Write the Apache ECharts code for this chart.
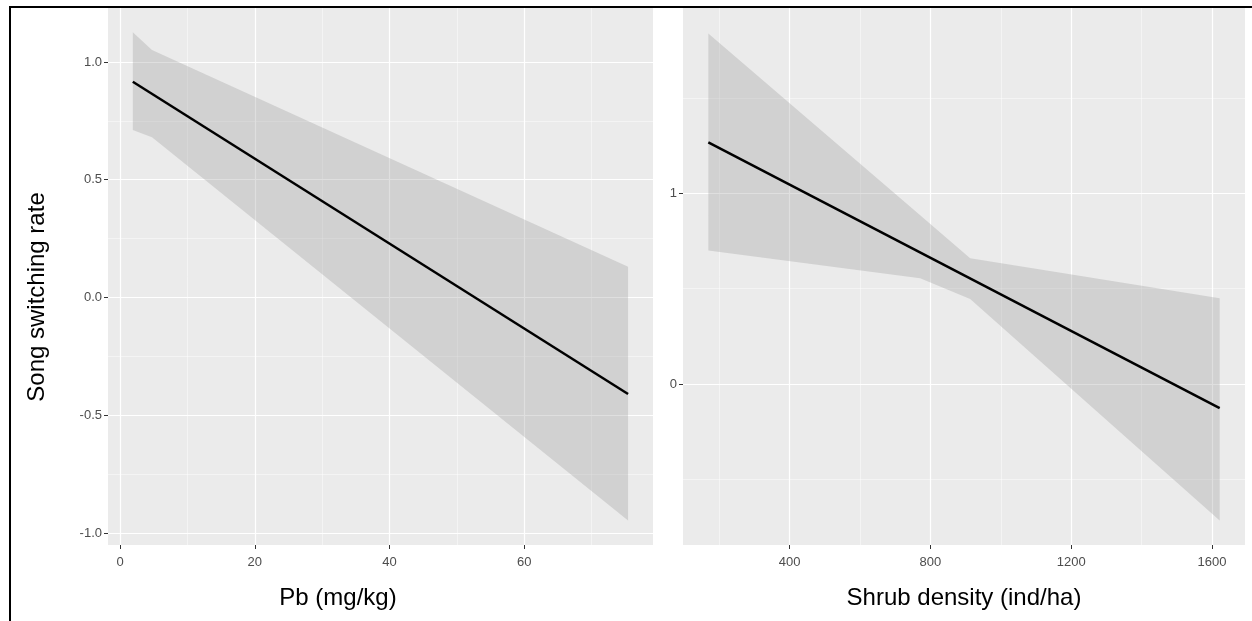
<!DOCTYPE html>
<html>
<head>
<meta charset="utf-8">
<script src="https://cdn.jsdelivr.net/npm/echarts@6/dist/echarts.min.js"></script>
<style>
  html, body { margin: 0; padding: 0; background: #fff; }
  #main { width: 1252px; height: 621px; }
</style>
</head>
<body>
<div id="main"></div>
<script>
// left panel: Pb (mg/kg)
const pbBandX = [1.9, 4.75, 75.4];
const pbUpper = [1.126, 1.051, 0.13];
const pbLower = [0.711, 0.68, -0.947];
const pbLineX = [1.9, 75.4];
const pbLineY = [0.916, -0.41];

// right panel: Shrub density (ind/ha)
const shrubBandX = [169, 771, 913, 1622];
const shrubUpper = [1.838, 0.885, 0.66, 0.45];
const shrubLower = [0.70, 0.555, 0.446, -0.715];
const shrubLineX = [169, 1622];
const shrubLineY = [1.267, -0.126];

// ticks
const pbTicks = [0, 20, 40, 60];
const pbMinor = [10, 30, 50, 70];
const leftYTicks = [-1, -0.5, 0, 0.5, 1];
const leftYMinor = [-0.75, -0.25, 0.25, 0.75];
const shrubTicks = [400, 800, 1200, 1600];
const shrubMinor = [200, 600, 1000, 1400];
const rightYTicks = [0, 1];
const rightYMinor = [-0.5, 0.5, 1.5];

const FONT = 'Liberation Sans, Arial, sans-serif';

function mainAxis(gridIndex, min, max, ticks, fmt, margin) {
    return {
        type: 'value', gridIndex: gridIndex, min: min, max: max,
        axisLine: { show: false, onZero: false },
        axisTick: { show: true, customValues: ticks, length: 4, lineStyle: { color: '#333', width: 1 } },
        axisLabel: { customValues: ticks, formatter: fmt, color: '#4d4d4d', fontSize: 13, margin: margin, fontFamily: FONT },
        splitLine: { show: true, lineStyle: { color: '#fff', width: 1.2 } }
    };
}

function minorAxis(gridIndex, min, max, ticks, pos) {
    return {
        type: 'value', gridIndex: gridIndex, min: min, max: max, position: pos,
        axisLine: { show: false, onZero: false },
        axisTick: { show: false, customValues: ticks },
        axisLabel: { show: false },
        splitLine: { show: true, lineStyle: { color: 'rgba(255,255,255,0.75)', width: 0.6 } }
    };
}

function pairs(xs, ys) {
    return xs.map((x, i) => [x, ys[i]]);
}

// confidence band as one polygon: lower edge left to right, upper edge back
function bandSeries(xIdx, yIdx, xs, lower, upper) {
    return {
        type: 'custom', xAxisIndex: xIdx, yAxisIndex: yIdx, silent: true,
        data: [[xs[0], lower[0]], [xs[xs.length - 1], upper[upper.length - 1]]],
        renderItem: function (params, api) {
            if (params.dataIndex !== 0) return null;
            const pts = [];
            for (let i = 0; i < xs.length; i++) pts.push(api.coord([xs[i], lower[i]]));
            for (let i = xs.length - 1; i >= 0; i--) pts.push(api.coord([xs[i], upper[i]]));
            return {
                type: 'polygon',
                shape: { points: pts },
                style: { fill: 'rgba(150,150,150,0.3)' }
            };
        }
    };
}

function fitSeries(xIdx, yIdx, xs, ys) {
    return {
        type: 'line', xAxisIndex: xIdx, yAxisIndex: yIdx, data: pairs(xs, ys),
        showSymbol: false, symbol: 'none', lineStyle: { color: '#000', width: 2.5 }, z: 5
    };
}

const myChart = echarts.init(document.getElementById('main'));

const option = {
    animation: false,
    backgroundColor: '#fff',
    grid: [
        { left: 108, top: 8, width: 545, height: 537, show: true, backgroundColor: '#ebebeb', borderWidth: 0 },
        { left: 683, top: 8, width: 562, height: 537, show: true, backgroundColor: '#ebebeb', borderWidth: 0 }
    ],
    xAxis: [
        mainAxis(0, -1.78, 79.1, pbTicks, v => String(v), 11),
        minorAxis(0, -1.78, 79.1, pbMinor, 'bottom'),
        mainAxis(1, 97, 1694, shrubTicks, v => String(v), 11),
        minorAxis(1, 97, 1694, shrubMinor, 'bottom')
    ],
    yAxis: [
        mainAxis(0, -1.051, 1.229, leftYTicks, v => v.toFixed(1), 6),
        minorAxis(0, -1.051, 1.229, leftYMinor, 'left'),
        mainAxis(1, -0.844, 1.972, rightYTicks, v => String(v), 6),
        minorAxis(1, -0.844, 1.972, rightYMinor, 'left')
    ],
    series: [
        bandSeries(0, 0, pbBandX, pbLower, pbUpper),
        fitSeries(0, 0, pbLineX, pbLineY),
        bandSeries(2, 2, shrubBandX, shrubLower, shrubUpper),
        fitSeries(2, 2, shrubLineX, shrubLineY)
    ],
    graphic: [
        {
            type: 'rect', shape: { x: 10, y: 7, width: 1260, height: 640 },
            style: { fill: 'none', stroke: '#000', lineWidth: 2 }, z: 100
        },
        {
            type: 'text', x: 338, y: 598,
            style: { text: 'Pb (mg/kg)', fontSize: 24, fill: '#000', fontFamily: FONT, align: 'center', verticalAlign: 'middle' }
        },
        {
            type: 'text', x: 964, y: 598,
            style: { text: 'Shrub density (ind/ha)', fontSize: 24, fill: '#000', fontFamily: FONT, align: 'center', verticalAlign: 'middle' }
        },
        {
            type: 'text', x: 37, y: 297, rotation: Math.PI / 2,
            style: { text: 'Song switching rate', fontSize: 24, fill: '#000', fontFamily: FONT, align: 'center', verticalAlign: 'middle' }
        }
    ]
};

myChart.setOption(option);

window.addEventListener('resize', function () {
    myChart.resize();
});
</script>
</body>
</html>
